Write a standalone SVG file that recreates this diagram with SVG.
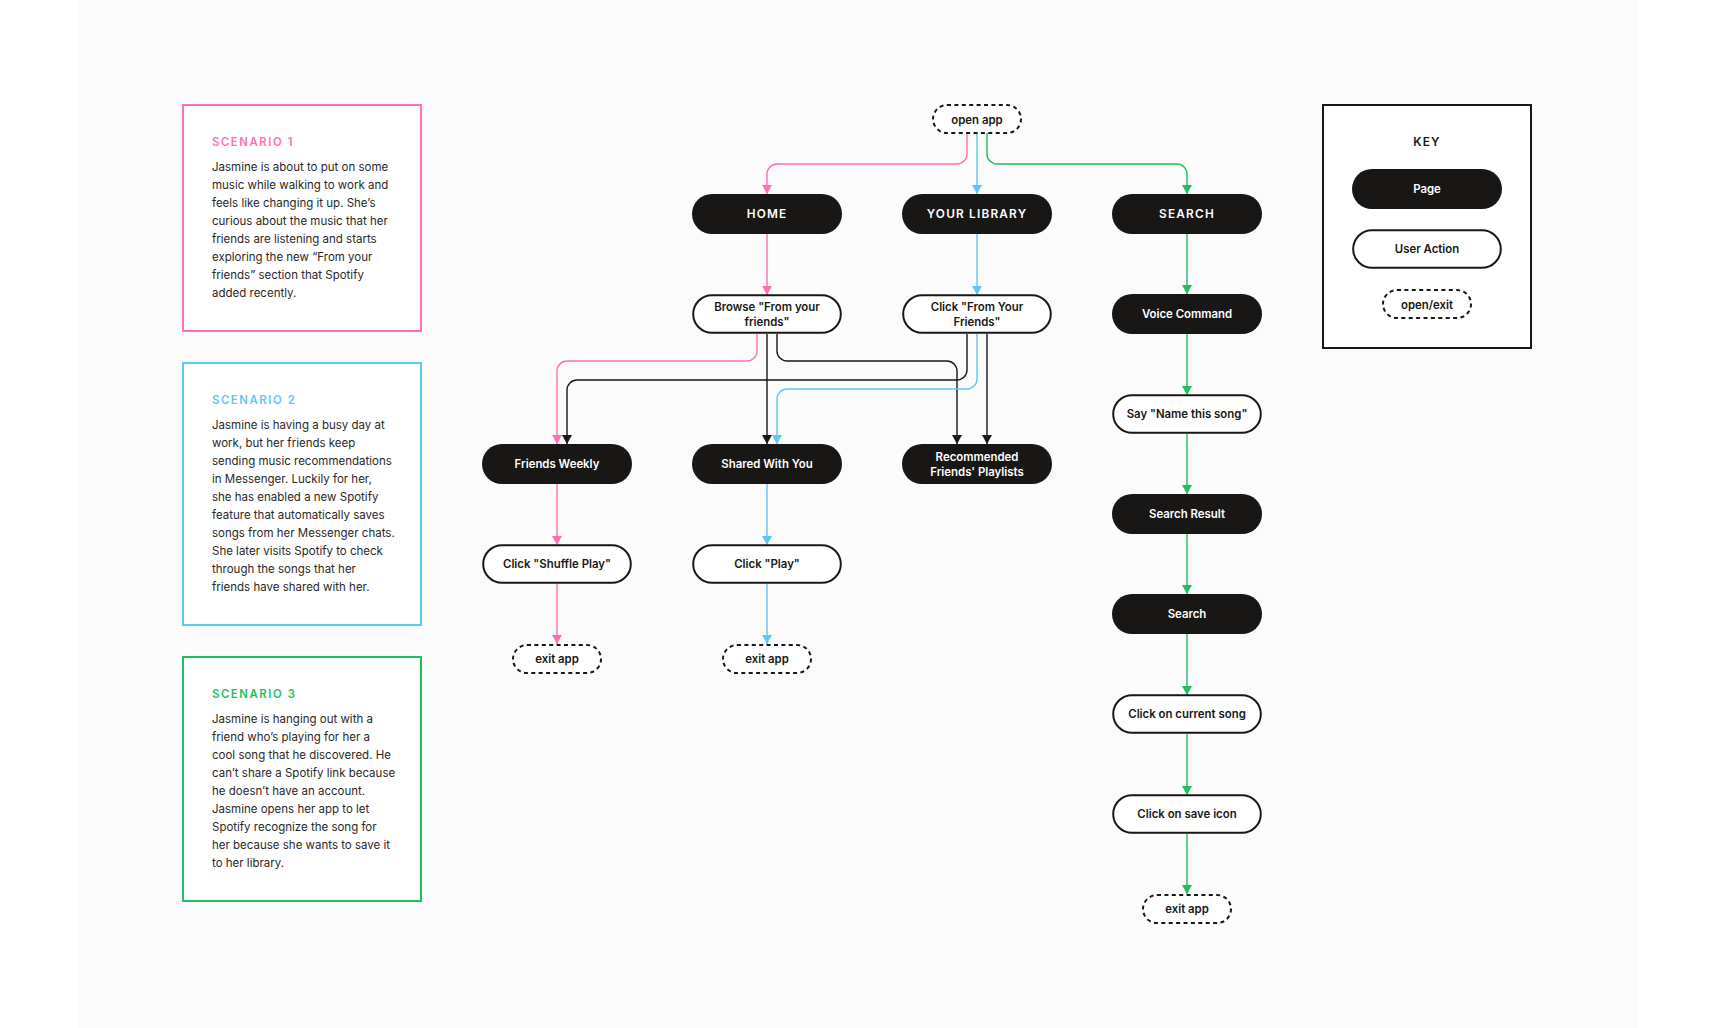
<svg xmlns="http://www.w3.org/2000/svg" width="1714" height="1028" viewBox="0 0 1714 1028">
<style>
text{font-family:"Inter","Liberation Sans",sans-serif;}
.n{font-size:11.4px;font-weight:600;text-anchor:middle;fill:#191716}
.w{fill:#fff}
.h{font-size:11.8px;font-weight:600;letter-spacing:1.2px;text-anchor:middle;fill:#fff}
.page{fill:#191716}
.act{fill:#fff;stroke:#191716;stroke-width:2}
.ex{fill:#fff;stroke:#191716;stroke-width:2;stroke-dasharray:4 3.4}
.b{font-size:11.5px;fill:#2a2827}
.t{font-size:11.3px;font-weight:600;letter-spacing:1.6px}
.box{fill:#fff;stroke-width:2}
.c{fill:none;stroke-width:1.4}
.p{stroke:#ff6fb5}.l{stroke:#5ec8f0}.g{stroke:#1dbf5e}.k{stroke:#191716}
</style>
<defs>
<marker id="mp" markerUnits="userSpaceOnUse" markerWidth="10" markerHeight="10" refX="9.5" refY="5" orient="auto"><path d="M0.5 0L9.5 5L0.5 10Z" fill="#ff6fb5"/></marker>
<marker id="ml" markerUnits="userSpaceOnUse" markerWidth="10" markerHeight="10" refX="9.5" refY="5" orient="auto"><path d="M0.5 0L9.5 5L0.5 10Z" fill="#5ec8f0"/></marker>
<marker id="mg" markerUnits="userSpaceOnUse" markerWidth="10" markerHeight="10" refX="9.5" refY="5" orient="auto"><path d="M0.5 0L9.5 5L0.5 10Z" fill="#1dbf5e"/></marker>
<marker id="mk" markerUnits="userSpaceOnUse" markerWidth="10" markerHeight="10" refX="9.5" refY="5" orient="auto"><path d="M0.5 0L9.5 5L0.5 10Z" fill="#191716"/></marker>
</defs>
<rect width="1714" height="1028" fill="#fff"/>
<rect x="78" y="0" width="1559" height="1028" fill="#fbfbfb"/>

<g id="scenario-1"><rect class="box" x="183" y="105" width="238" height="226" stroke="#ff6fb5"/>
<text class="t" x="212" y="146" fill="#ff6fb5">SCENARIO 1</text>
<text class="b" x="212" y="171">Jasmine is about to put on some</text><text class="b" x="212" y="189">music while walking to work and</text><text class="b" x="212" y="207">feels like changing it up. She’s</text><text class="b" x="212" y="225">curious about the music that her</text><text class="b" x="212" y="243">friends are listening and starts</text><text class="b" x="212" y="261">exploring the new “From your</text><text class="b" x="212" y="279">friends” section that Spotify</text><text class="b" x="212" y="297">added recently.</text></g>

<g id="scenario-2"><rect class="box" x="183" y="363" width="238" height="262" stroke="#5ec8f0"/>
<text class="t" x="212" y="404" fill="#5ec8f0">SCENARIO 2</text>
<text class="b" x="212" y="429">Jasmine is having a busy day at</text><text class="b" x="212" y="447">work, but her friends keep</text><text class="b" x="212" y="465">sending music recommendations</text><text class="b" x="212" y="483">in Messenger. Luckily for her,</text><text class="b" x="212" y="501">she has enabled a new Spotify</text><text class="b" x="212" y="519">feature that automatically saves</text><text class="b" x="212" y="537">songs from her Messenger chats.</text><text class="b" x="212" y="555">She later visits Spotify to check</text><text class="b" x="212" y="573">through the songs that her</text><text class="b" x="212" y="591">friends have shared with her.</text></g>

<g id="scenario-3"><rect class="box" x="183" y="657" width="238" height="244" stroke="#1dbf5e"/>
<text class="t" x="212" y="698" fill="#1dbf5e">SCENARIO 3</text>
<text class="b" x="212" y="723">Jasmine is hanging out with a</text><text class="b" x="212" y="741">friend who’s playing for her a</text><text class="b" x="212" y="759">cool song that he discovered. He</text><text class="b" x="212" y="777">can’t share a Spotify link because</text><text class="b" x="212" y="795">he doesn’t have an account.</text><text class="b" x="212" y="813">Jasmine opens her app to let</text><text class="b" x="212" y="831">Spotify recognize the song for</text><text class="b" x="212" y="849">her because she wants to save it</text><text class="b" x="212" y="867">to her library.</text></g>

<g id="connectors">
<path class="c p" marker-end="url(#mp)" d="M967 133V154a10 10 0 0 1-10 10H777a10 10 0 0 0-10 10V194"/>
<path class="c l" marker-end="url(#ml)" d="M977 133V194"/>
<path class="c g" marker-end="url(#mg)" d="M987 133V154a10 10 0 0 0 10 10H1177a10 10 0 0 1 10 10V194"/>
<path class="c p" marker-end="url(#mp)" d="M767 234V295"/>
<path class="c l" marker-end="url(#ml)" d="M977 234V295"/>
<path class="c g" marker-end="url(#mg)" d="M1187 234V294"/>
<path class="c p" marker-end="url(#mp)" d="M757 334V351a10 10 0 0 1-10 10H567a10 10 0 0 0-10 10V444"/>
<path class="c k" marker-end="url(#mk)" d="M767 334V444"/>
<path class="c k" marker-end="url(#mk)" d="M777 334V351a10 10 0 0 0 10 10H947a10 10 0 0 1 10 10V444"/>
<path class="c k" marker-end="url(#mk)" d="M967 334V370a10 10 0 0 1-10 10H577a10 10 0 0 0-10 10V444"/>
<path class="c l" marker-end="url(#ml)" d="M977 334V379a10 10 0 0 1-10 10H787a10 10 0 0 0-10 10V444"/>
<path class="c k" marker-end="url(#mk)" d="M987 334V444"/>
<path class="c p" marker-end="url(#mp)" d="M557 484V545"/>
<path class="c p" marker-end="url(#mp)" d="M557 584V644"/>
<path class="c l" marker-end="url(#ml)" d="M767 484V545"/>
<path class="c l" marker-end="url(#ml)" d="M767 584V644"/>
<path class="c g" marker-end="url(#mg)" d="M1187 334V395"/>
<path class="c g" marker-end="url(#mg)" d="M1187 434V494"/>
<path class="c g" marker-end="url(#mg)" d="M1187 534V594"/>
<path class="c g" marker-end="url(#mg)" d="M1187 634V695"/>
<path class="c g" marker-end="url(#mg)" d="M1187 734V795"/>
<path class="c g" marker-end="url(#mg)" d="M1187 834V894"/>
</g>

<g id="open-app"><rect class="ex" x="933" y="105" width="88" height="28" rx="14"/><text class="n" x="977" y="123.5">open app</text></g>
<g id="home"><rect class="page" x="692" y="194" width="150" height="40" rx="20"/><text class="h" x="767" y="218">HOME</text></g>
<g id="your-library"><rect class="page" x="902" y="194" width="150" height="40" rx="20"/><text class="h" x="977" y="218">YOUR LIBRARY</text></g>
<g id="search-tab"><rect class="page" x="1112" y="194" width="150" height="40" rx="20"/><text class="h" x="1187" y="218">SEARCH</text></g>
<g id="browse"><rect class="act" x="693.2" y="295.2" width="147.6" height="37.6" rx="18.8"/><text class="n" x="767" y="311">Browse "From your</text><text class="n" x="767" y="326">friends"</text></g>
<g id="click-friends"><rect class="act" x="903.2" y="295.2" width="147.6" height="37.6" rx="18.8"/><text class="n" x="977" y="311">Click "From Your</text><text class="n" x="977" y="326">Friends"</text></g>
<g id="voice"><rect class="page" x="1112" y="294" width="150" height="40" rx="20"/><text class="n w" x="1187" y="318">Voice Command</text></g>
<g id="say"><rect class="act" x="1113.2" y="395.2" width="147.6" height="37.6" rx="18.8"/><text class="n" x="1187" y="418">Say "Name this song"</text></g>
<g id="friends-weekly"><rect class="page" x="482" y="444" width="150" height="40" rx="20"/><text class="n w" x="557" y="468">Friends Weekly</text></g>
<g id="shared"><rect class="page" x="692" y="444" width="150" height="40" rx="20"/><text class="n w" x="767" y="468">Shared With You</text></g>
<g id="recommended"><rect class="page" x="902" y="444" width="150" height="40" rx="20"/><text class="n w" x="977" y="461">Recommended</text><text class="n w" x="977" y="476">Friends' Playlists</text></g>
<g id="search-result"><rect class="page" x="1112" y="494" width="150" height="40" rx="20"/><text class="n w" x="1187" y="518">Search Result</text></g>
<g id="shuffle"><rect class="act" x="483.2" y="545.2" width="147.6" height="37.6" rx="18.8"/><text class="n" x="557" y="568">Click "Shuffle Play"</text></g>
<g id="play"><rect class="act" x="693.2" y="545.2" width="147.6" height="37.6" rx="18.8"/><text class="n" x="767" y="568">Click "Play"</text></g>
<g id="search"><rect class="page" x="1112" y="594" width="150" height="40" rx="20"/><text class="n w" x="1187" y="618">Search</text></g>
<g id="exit-1"><rect class="ex" x="513" y="645" width="88" height="28" rx="14"/><text class="n" x="557" y="663">exit app</text></g>
<g id="exit-2"><rect class="ex" x="723" y="645" width="88" height="28" rx="14"/><text class="n" x="767" y="663">exit app</text></g>
<g id="current-song"><rect class="act" x="1113.2" y="695.2" width="147.6" height="37.6" rx="18.8"/><text class="n" x="1187" y="718">Click on current song</text></g>
<g id="save-icon"><rect class="act" x="1113.2" y="795.2" width="147.6" height="37.6" rx="18.8"/><text class="n" x="1187" y="818">Click on save icon</text></g>
<g id="exit-3"><rect class="ex" x="1143" y="895" width="88" height="28" rx="14"/><text class="n" x="1187" y="913">exit app</text></g>

<g id="key"><rect class="box" x="1323" y="105" width="208" height="243" stroke="#191716"/>
<text class="h" x="1427" y="146" style="fill:#191716">KEY</text>
<rect class="page" x="1352" y="169" width="150" height="40" rx="20"/><text class="n w" x="1427" y="193">Page</text>
<rect class="act" x="1353.2" y="230.2" width="147.6" height="37.6" rx="18.8"/><text class="n" x="1427" y="253">User Action</text>
<rect class="ex" x="1383" y="290" width="88" height="28" rx="14"/><text class="n" x="1427" y="308.5">open/exit</text></g>
</svg>
